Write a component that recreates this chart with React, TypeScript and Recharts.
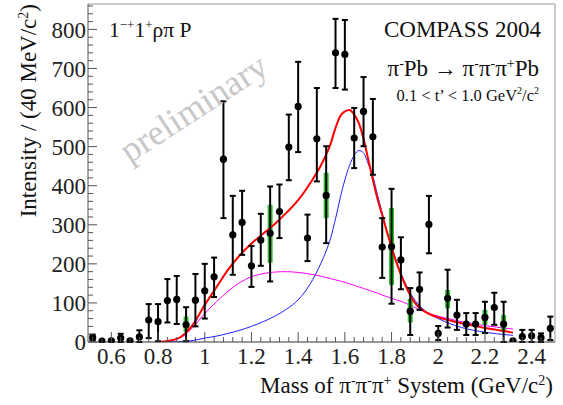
import React from 'react';
import { ComposedChart, Line, Scatter, XAxis, YAxis, ErrorBar, ReferenceLine } from 'recharts';

// Measured points (bin centres, GeV/c^2)
const massBins = [0.52,0.56,0.60,0.64,0.68,0.72,0.76,0.80,0.84,0.88,0.92,0.96,1.00,1.04,1.08,1.12,1.16,1.20,1.24,1.28,1.32,1.36,1.40,1.44,1.48,1.52,1.56,1.60,1.64,1.68,1.72,1.76,1.80,1.84,1.88,1.92,1.96,2.00,2.04,2.08,2.12,2.16,2.20,2.24,2.28,2.32,2.36,2.40,2.44,2.48];
const intensity = [11,2,3,10,3,13,56,52,106,109,44,107,131,167,468,274,306,195,261,278,334,499,603,266,520,375,740,736,522,590,525,243,244,210,79,135,301,22,112,69,46,46,63,88,46,3,14,16,11,35];
const errLowEdge = [4,0,0,0,0,0,10,2,50,46,2,40,60,115,317,172,223,141,195,155,266,414,486,207,411,253,650,646,445,501,428,164,98,135,18,82,227,5,37,31,18,18,23,44,0,3,0,0,0,5];
const errHighEdge = [19,4,6,21,6,30,97,97,161,169,89,174,200,216,616,374,387,246,328,398,403,582,717,326,650,501,827,824,599,678,622,317,392,268,138,178,374,41,185,108,74,74,103,126,103,3,31,31,22,65];

// Systematic uncertainty boxes (green)
const sysMass = [0.92,1.08,1.28,1.52,1.80,1.88,2.04,2.20,2.28];
const sysLowEdge = [26,460,203,317,146,50,86,44,26];
const sysHighEdge = [65,476,351,433,343,110,133,82,69];

// Fit curves
const curveMass = [0.80,0.85,0.90,0.95,1.00,1.05,1.10,1.15,1.20,1.25,1.30,1.35,1.40,1.45,1.50,1.54,1.56,1.58,1.60,1.62,1.64,1.66,1.68,1.70,1.72,1.74,1.76,1.78,1.80,1.82,1.85,1.90,1.95,2.00,2.05,2.10,2.15,2.20,2.25,2.32];
const totalFit = [0,3,14,45,95,140,185,222,252,277,302,331,363,405,455,509,548,578,590,594,582,560,520,468,415,366,325,282,243,205,158,100,75,63,55,48,42,36,31,24];
const resonanceFit = [0,0,1,4,10,15,22,30,40,52,66,84,108,147,205,268,315,368,415,452,478,490,484,456,424,376,330,285,244,208,162,107,77,60,47,37,30,25,21,17];
const backgroundFit = [0,3,12,38,73,103,130,152,167,175,179,180,178,174,168,162,159,156,153,149,145,141,137,133,129,125,120,116,112,108,102,88,76,66,59,52,47,42,38,33];

// Axis ticks
const xMajorTicks = [0.6,0.8,1.0,1.2,1.4,1.6,1.8,2.0,2.2,2.4];
const xMajorLabels = ['0.6','0.8','1','1.2','1.4','1.6','1.8','2','2.2','2.4'];
const yMajorTicks = [0,100,200,300,400,500,600,700,800];

const xAllTicks: number[] = [];
for (let i = 0; i < 50; i++) xAllTicks.push(Math.round((0.52 + i * 0.04) * 100) / 100);
const yAllTicks: number[] = [];
for (let i = 0; i <= 43; i++) yAllTicks.push(i * 20);

const pointData = massBins.map((m, i) => ({
  x: m,
  y: intensity[i],
  err: [intensity[i] - errLowEdge[i], errHighEdge[i] - intensity[i]],
}));
const sysData = sysMass.map((m, i) => {
  const idx = massBins.findIndex((b) => Math.abs(b - m) < 1e-6);
  const v = intensity[idx];
  return { x: m, y: v, sys: [v - sysLowEdge[i], sysHighEdge[i] - v] };
});
const curveData = curveMass.map((m, i) => ({
  x: m,
  total: totalFit[i],
  res: resonanceFit[i],
  bkg: backgroundFit[i],
}));

const FONT = "'Liberation Serif', 'Times New Roman', Times, serif";
const AXIS = '#555';
const textStyle = { fontFamily: FONT };

const XTick = (props: any) => {
  const { x, y, payload } = props;
  const v = payload.value;
  const mi = xMajorTicks.findIndex((t) => Math.abs(t - v) < 1e-6);
  const major = mi >= 0;
  return (
    <g>
      <line x1={x} y1={y} x2={x} y2={y - (major ? 10 : 5)} stroke={AXIS} strokeWidth={1} />
      {major && (
        <text x={x} y={y + 22} textAnchor="middle" fontSize={23} style={textStyle} fill="#222" stroke="none">
          {xMajorLabels[mi]}
        </text>
      )}
    </g>
  );
};

const YTick = (props: any) => {
  const { x, y, payload } = props;
  const v = payload.value;
  const major = yMajorTicks.includes(v);
  return (
    <g>
      <line x1={x} y1={y} x2={x + (major ? 9 : 5)} y2={y} stroke={AXIS} strokeWidth={1} />
      {major && (
        <text x={x - 2} y={y} dy="0.36em" textAnchor="end" fontSize={23} style={textStyle} fill="#222" stroke="none">
          {v}
        </text>
      )}
    </g>
  );
};

const Dot = (props: any) => {
  const { cx, cy } = props;
  return <circle cx={cx} cy={cy} r={3.6} fill="#000" />;
};
const NoDot = () => <g />;

export default function App() {
  return (
    <div style={{ position: 'absolute', left: 0, top: 0, width: 563, height: 405, background: '#fff' }}>
      <ComposedChart
        width={563}
        height={405}
        data={curveData}
        margin={{ top: 4, right: 8, left: 0, bottom: 0 }}
      >
        <XAxis
          dataKey="x"
          type="number"
          domain={[0.5, 2.5]}
          ticks={xAllTicks}
          interval={0}
          tick={<XTick />}
          tickLine={false}
          tickSize={0}
          tickMargin={0}
          height={63}
          axisLine={{ stroke: '#333', strokeWidth: 1 }}
          allowDataOverflow
        />
        <YAxis
          type="number"
          domain={[0, 865]}
          ticks={yAllTicks}
          interval={0}
          tick={<YTick />}
          tickLine={false}
          tickSize={0}
          tickMargin={0}
          width={88}
          axisLine={{ stroke: AXIS, strokeWidth: 1 }}
          allowDataOverflow
        />
        <ReferenceLine y={865} stroke="#999" strokeWidth={1} />
        <ReferenceLine x={2.5} stroke="#999" strokeWidth={1} />
        <Line dataKey="bkg" type="monotone" stroke="#ff00ff" strokeWidth={1} dot={false} isAnimationActive={false} />
        <Line dataKey="res" type="monotone" stroke="#2020ff" strokeWidth={1} dot={false} isAnimationActive={false} />
        <Scatter data={sysData} dataKey="y" shape={<NoDot />} isAnimationActive={false}>
          <ErrorBar dataKey="sys" direction="y" width={0} stroke="#2cc12c" strokeWidth={5} isAnimationActive={false} />
        </Scatter>
        <Line dataKey="total" type="monotone" stroke="#ff0000" strokeWidth={2} dot={false} isAnimationActive={false} />
        <Scatter data={pointData} dataKey="y" shape={<Dot />} isAnimationActive={false}>
          <ErrorBar dataKey="err" direction="y" width={3} stroke="#000" strokeWidth={2} isAnimationActive={false} />
        </Scatter>
      </ComposedChart>
      <svg
        width={563}
        height={405}
        style={{ position: 'absolute', left: 0, top: 0, pointerEvents: 'none', fontFamily: FONT }}
      >
        <text x={200} y={118} textAnchor="middle" fontSize={36} fill="#c8c8c8" transform="rotate(-33 200 118)">
          preliminary
        </text>
        <text x={109} y={37} fontSize={21.5} fill="#111">
          1<tspan dy={-8} fontSize={13}>−+</tspan>
          <tspan dy={8}>1</tspan>
          <tspan dy={-8} fontSize={13}>+</tspan>
          <tspan dy={8}>ρπ P</tspan>
        </text>
        <text x={541} y={37} textAnchor="end" fontSize={23} fill="#111">COMPASS 2004</text>
        <text x={539} y={76} textAnchor="end" fontSize={23} fill="#111">
          π<tspan dy={-8} fontSize={14}>-</tspan>
          <tspan dy={8}>Pb → π</tspan>
          <tspan dy={-8} fontSize={14}>-</tspan>
          <tspan dy={8}>π</tspan>
          <tspan dy={-8} fontSize={14}>-</tspan>
          <tspan dy={8}>π</tspan>
          <tspan dy={-8} fontSize={14}>+</tspan>
          <tspan dy={8}>Pb</tspan>
        </text>
        <text x={539} y={101} textAnchor="end" fontSize={16.5} fill="#111">
          0.1 &lt; t’ &lt; 1.0 GeV<tspan dy={-7} fontSize={10}>2</tspan>
          <tspan dy={7}>/c</tspan>
          <tspan dy={-7} fontSize={10}>2</tspan>
        </text>
        <text x={553} y={393} textAnchor="end" fontSize={23} fill="#111">
          Mass of π<tspan dy={-8} fontSize={14}>-</tspan>
          <tspan dy={8}>π</tspan>
          <tspan dy={-8} fontSize={14}>-</tspan>
          <tspan dy={8}>π</tspan>
          <tspan dy={-8} fontSize={14}>+</tspan>
          <tspan dy={8}> System (GeV/c</tspan>
          <tspan dy={-8} fontSize={14}>2</tspan>
          <tspan dy={8}>)</tspan>
        </text>
        <text x={36} y={4} textAnchor="end" fontSize={23} fill="#111" transform="rotate(-90 36 4)">
          Intensity / (40 MeV/c<tspan dy={-8} fontSize={14}>2</tspan>
          <tspan dy={8}>)</tspan>
        </text>
      </svg>
    </div>
  );
}
